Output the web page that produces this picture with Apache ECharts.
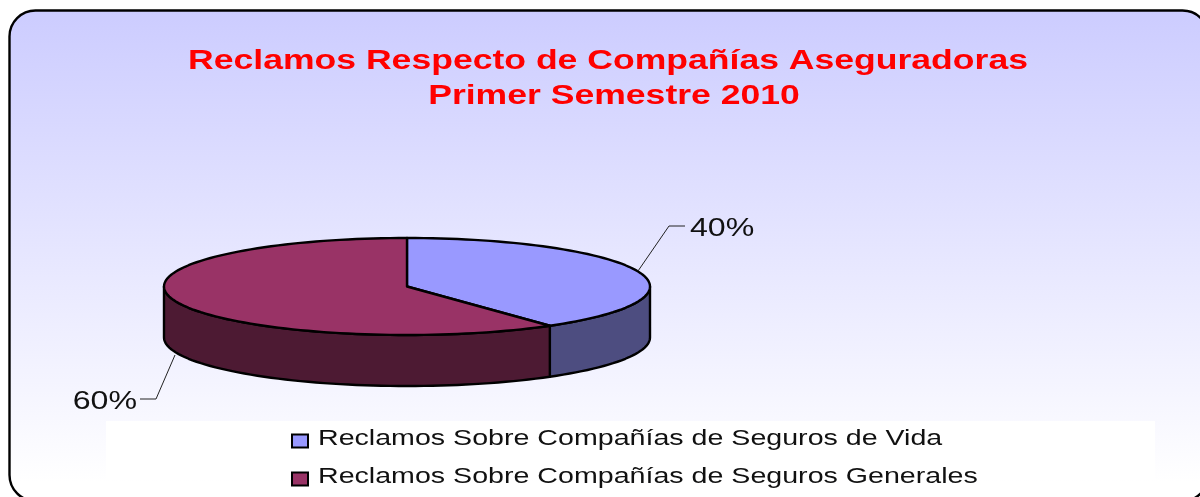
<!DOCTYPE html>
<html><head><meta charset="utf-8">
<style>html,body{margin:0;padding:0;background:#fff;overflow:hidden}#c{width:1200px;height:497px}</style>
<script src="https://cdn.jsdelivr.net/npm/echarts@6/dist/echarts.min.js"></script>
</head><body><div id="c"></div>
<script>
const titleLines = ['Reclamos Respecto de Compañías Aseguradoras', 'Primer Semestre 2010'];
const categories = ['Reclamos Sobre Compañías de Seguros de Vida', 'Reclamos Sobre Compañías de Seguros Generales'];
const values = [40, 60];
const topColors = ['#9999ff', '#993366'];
const sideColors = ['#4d4d80', '#4d1a33'];
const labelAnchors = [{x0:638,y0:271,x1:669,y1:226,x2:685,tx:690,ty:228.5,align:'left'},
                      {x0:175,y0:355,x1:156,y1:399,x2:140,tx:137,ty:402,align:'right'}];

const cx = 407, cy = 286.5, rx = 243, ry = 48.5, depth = 51;
const total = values.reduce((a, b) => a + b, 0);
function pt(deg, dy) {
  const r = deg * Math.PI / 180;
  return [cx + rx * Math.sin(r), cy - ry * Math.cos(r) + (dy || 0)];
}
function arc(a, b, dy) {
  const out = [], n = Math.max(2, Math.ceil(Math.abs(b - a) / 2));
  for (let i = 0; i <= n; i++) out.push(pt(a + (b - a) * i / n, dy));
  return out;
}
const lineStyle = {stroke: '#000', lineWidth: 2.4, lineJoin: 'round'};

const series = categories.map((name, idx) => ({
  type: 'custom', name, coordinateSystem: 'none', silent: true,
  itemStyle: {color: topColors[idx], borderColor: '#000', borderWidth: 1.5},
  data: [values[idx]],
  z: 2,
  renderItem(params, api) {
    const before = values.slice(0, idx).reduce((a, b) => a + b, 0);
    const a0 = before / total * 360, a1 = (before + api.value(0)) / total * 360;
    const children = [];
    const s0 = Math.max(a0, 90), s1 = Math.min(a1, 270);
    if (s1 > s0) {
      children.push({type: 'polygon', shape: {points: arc(s0, s1, 0).concat(arc(s1, s0, depth))},
        style: Object.assign({fill: sideColors[idx]}, lineStyle)});
    }
    children.push({type: 'polygon', shape: {points: [[cx, cy]].concat(arc(a0, a1, 0))},
      style: Object.assign({fill: topColors[idx]}, lineStyle)});
    const L = labelAnchors[idx];
    children.push({type: 'polyline', shape: {points: [[L.x0, L.y0], [L.x1, L.y1], [L.x2, L.y1]]},
      style: {stroke: '#222', lineWidth: 1, fill: null}});
    children.push({type: 'text', x: L.tx, y: L.ty, scaleX: 1.26, style: {
      text: api.value(0) + '%', fill: '#111', fontFamily: 'Liberation Sans', fontSize: 25.5,
      align: L.align, verticalAlign: 'middle'}});
    return {type: 'group', children};
  }
}));

const titleStyle = {color: '#ff0000', fontFamily: 'Liberation Sans', fontWeight: 'bold', fontSize: 28};
const chart = echarts.init(document.getElementById('c'), null, {renderer: 'canvas'});
chart.setOption({
  animation: false,
  graphic: [
    {type: 'rect', z: -10, shape: {x: 9.5, y: 10.5, width: 1199, height: 490.5, r: 26},
     style: {stroke: '#000', lineWidth: 2.4,
       fill: {type: 'linear', x: 0, y: 0, x2: 0, y2: 1, colorStops: [{offset: 0, color: '#ccccff'}, {offset: 0.96, color: '#ffffff'}]}}},
    {type: 'rect', z: -9, shape: {x: 106, y: 421, width: 1049, height: 58}, style: {fill: '#ffffff'}}
  ],
  title: [
    {text: titleLines[0], left: 608, top: 47, padding: 0, textAlign: 'center', textStyle: titleStyle},
    {text: titleLines[1], left: 614, top: 82, padding: 0, textAlign: 'center', textStyle: titleStyle}
  ],
  legend: {
    left: 291, top: 428, padding: 0, orient: 'vertical', itemGap: 12, itemWidth: 16, itemHeight: 13, icon: 'rect',
    data: categories,
    textStyle: {color: '#111', fontFamily: 'Liberation Sans', fontSize: 22, lineHeight: 26}
  },
  series
});

// The reference's text is stretched horizontally; apply that to the title and legend text elements.
const stretch = {};
titleLines.forEach(t => { stretch[t] = {sx: 1.27, dx: 0, dy: 0}; });
categories.forEach(t => { stretch[t] = {sx: 1.3, dx: 5, dy: -2}; });
const zr = chart.getZr();
zr.storage.getRoots().forEach(root => {
  root.traverse && root.traverse(el => {
    const s = el.style && stretch[el.style.text];
    if (el.type === 'text' && s) {
      el.originX = el.style.x || 0;
      el.scaleX = s.sx;
      el.x += s.dx;
      el.y += s.dy;
      el.markRedraw();
    }
  });
});
zr.refresh();
</script></body></html>
